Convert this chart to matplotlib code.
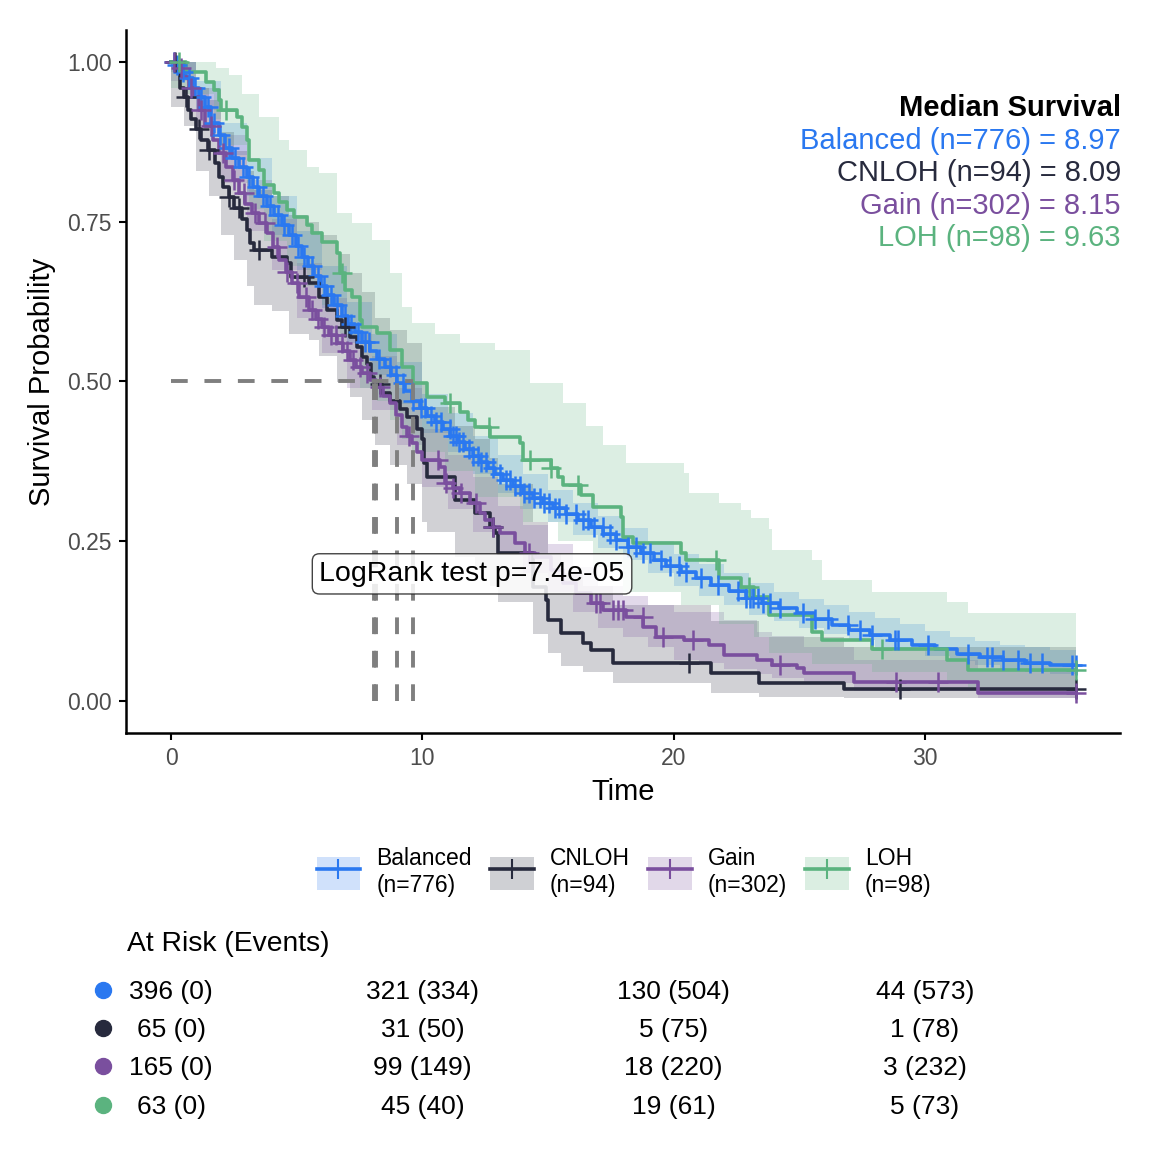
import numpy as np
import matplotlib
matplotlib.use('Agg')
import matplotlib.pyplot as plt
import matplotlib.transforms as mtrans
from matplotlib.patches import Patch
from matplotlib.lines import Line2D
from matplotlib.legend_handler import HandlerTuple

plt.rcParams['font.family'] = ['Liberation Sans', 'DejaVu Sans']

groups = ['Balanced', 'CNLOH', 'Gain', 'LOH']
n_total = [776, 94, 302, 98]
medians = [8.97, 8.09, 8.15, 9.63]
colors = ['#2A78F0', '#272A3D', '#7A4F9E', '#5BB37F']
t_end = 36.0

# Balanced - step times / survival
bal_t = [0.15, 0.35, 0.6, 0.85, 1.1, 1.35, 1.6, 1.9, 2.15, 2.4, 2.7, 3.0, 3.25, 3.5, 3.8,
         4.1, 4.4, 4.7, 4.95, 5.2, 5.45, 5.7, 5.95, 6.2, 6.5, 6.8, 7.05, 7.3, 7.6, 7.9,
         8.2, 8.5, 8.75, 8.97, 9.3, 9.6, 9.9, 10.2, 10.5, 10.8, 11.1, 11.4, 11.7, 12.0,
         12.3, 12.6, 12.9, 13.2, 13.6, 14.0, 14.4, 14.8, 15.2, 15.7, 16.2, 16.7, 17.2,
         17.7, 18.2, 18.7, 19.2, 19.7, 20.3, 20.9, 21.5, 22.2, 22.9, 23.5, 24.2, 24.9,
         25.6, 26.3, 27.0, 27.8, 28.6, 29.5, 30.4, 31.3, 32.2, 33.1, 34.0, 35.0]
bal_s = [0.995, 0.985, 0.975, 0.96, 0.945, 0.93, 0.905, 0.885, 0.865, 0.85, 0.835, 0.82,
         0.805, 0.79, 0.775, 0.76, 0.745, 0.73, 0.712, 0.695, 0.68, 0.665, 0.65, 0.636,
         0.62, 0.603, 0.59, 0.577, 0.562, 0.548, 0.535, 0.522, 0.51, 0.498, 0.485, 0.47,
         0.458, 0.446, 0.436, 0.425, 0.415, 0.405, 0.395, 0.384, 0.374, 0.364, 0.355,
         0.346, 0.337, 0.326, 0.318, 0.31, 0.302, 0.293, 0.283, 0.272, 0.262, 0.252,
         0.241, 0.231, 0.22, 0.212, 0.202, 0.192, 0.182, 0.172, 0.162, 0.154, 0.145,
         0.137, 0.128, 0.119, 0.111, 0.103, 0.095, 0.088, 0.081, 0.074, 0.069, 0.064,
         0.06, 0.057]
bal_cens = [0.1, 0.25, 0.45, 0.7, 0.95, 1.2, 1.45, 1.7, 1.95, 2.3, 2.55, 2.85, 3.1, 3.4,
            3.65, 3.95, 4.25, 4.5, 4.8, 5.05, 5.3, 5.6, 5.85, 6.1, 6.35, 6.6, 6.9, 7.15,
            7.45, 7.7, 7.89, 8.29, 8.69, 8.95, 9.22, 9.61, 9.95, 10.1, 10.35, 10.55, 10.74,
            11.08, 11.2, 11.34, 11.45, 11.61, 11.87, 12.0, 12.2, 12.35, 12.54, 12.8, 13.07,
            13.33, 13.5, 13.67, 13.9, 14.06, 14.25, 14.46, 14.7, 14.86, 15.05, 15.26, 15.45,
            15.72, 16.1, 16.39, 16.6, 16.85, 17.18, 17.45, 17.72, 18.2, 18.51, 18.8, 19.04,
            19.5, 19.84, 20.2, 20.5, 21.1, 21.77, 22.56, 22.9, 23.03, 23.16, 23.36, 23.56,
            23.82, 24.22, 25.15, 25.62, 26.15, 26.94, 27.41, 27.88, 28.8, 28.94, 30.13,
            31.73, 32.46, 32.66, 33.12, 33.72, 34.18, 34.65, 35.84, 36.0]
bal_band_t = [0, 1, 2, 3, 4, 5, 6, 7, 8, 9, 10, 11, 12, 13, 14, 15, 16, 17, 18, 19, 20,
              21, 22, 23, 24, 25, 26, 27, 28, 29, 30, 31, 32, 33, 34, 35]
bal_lo = [0.985, 0.925, 0.855, 0.79, 0.73, 0.675, 0.615, 0.56, 0.51, 0.465, 0.42, 0.39,
          0.355, 0.325, 0.3, 0.28, 0.26, 0.24, 0.22, 0.2, 0.18, 0.165, 0.15, 0.135, 0.125,
          0.115, 0.105, 0.095, 0.085, 0.078, 0.07, 0.062, 0.056, 0.05, 0.046, 0.043]
bal_hi = [1.0, 0.97, 0.905, 0.85, 0.79, 0.735, 0.68, 0.625, 0.575, 0.53, 0.48, 0.45,
          0.415, 0.385, 0.355, 0.33, 0.31, 0.29, 0.27, 0.25, 0.23, 0.215, 0.2, 0.185,
          0.17, 0.16, 0.15, 0.14, 0.13, 0.12, 0.11, 0.1, 0.094, 0.088, 0.084, 0.08]

# CNLOH
cn_t = [0.35, 0.5, 0.65, 0.8, 1.0, 1.2, 1.45, 1.75, 1.9, 2.05, 2.3, 2.5, 2.8, 3.0, 3.15,
        3.3, 4.0, 4.6, 4.75, 5.5, 5.9, 6.2, 6.6, 6.8, 7.1, 7.4, 7.6, 7.8, 7.95, 8.09, 8.4,
        8.7, 9.1, 9.4, 9.8, 10.0, 10.05, 10.2, 11.3, 12.1, 12.7, 12.9, 13.0, 14.4, 14.9,
        15.0, 15.5, 16.4, 16.7, 17.6, 21.5, 23.4, 26.8]
cn_s = [0.96, 0.945, 0.925, 0.91, 0.895, 0.878, 0.862, 0.842, 0.82, 0.804, 0.789, 0.771,
        0.755, 0.737, 0.717, 0.706, 0.695, 0.685, 0.664, 0.654, 0.632, 0.612, 0.596, 0.585,
        0.57, 0.554, 0.538, 0.527, 0.507, 0.496, 0.482, 0.47, 0.457, 0.444, 0.425, 0.41,
        0.372, 0.351, 0.315, 0.295, 0.272, 0.263, 0.232, 0.178, 0.158, 0.127, 0.106, 0.091,
        0.08, 0.059, 0.044, 0.028, 0.019]
cn_cens = [0.15, 0.6, 1.1, 1.5, 2.3, 2.7, 3.5, 5.3, 6.9, 8.3, 12.8, 20.6, 29.0, 36.0]
cn_band_t = [0, 0.5, 1.0, 1.5, 2.0, 2.5, 3.0, 3.3, 4.0, 4.7, 5.5, 5.9, 6.6, 7.1, 7.6, 8.1,
             8.7, 9.4, 10.0, 10.2, 11.3, 12.1, 12.7, 13.0, 14.4, 15.0, 15.5, 16.4, 17.6,
             21.5, 23.4, 26.8]
cn_lo = [0.93, 0.9, 0.83, 0.79, 0.73, 0.69, 0.65, 0.62, 0.61, 0.575, 0.565, 0.54, 0.5,
         0.475, 0.44, 0.4, 0.37, 0.34, 0.28, 0.265, 0.225, 0.205, 0.18, 0.155, 0.105, 0.075,
         0.055, 0.045, 0.028, 0.013, 0.006, 0.004]
cn_hi = [1.0, 1.0, 0.96, 0.94, 0.89, 0.86, 0.83, 0.8, 0.79, 0.76, 0.75, 0.73, 0.7, 0.67,
         0.64, 0.6, 0.58, 0.56, 0.5, 0.46, 0.43, 0.41, 0.38, 0.34, 0.28, 0.23, 0.2, 0.18,
         0.15, 0.125, 0.1, 0.085]

# Gain
gain_t = [0.2, 0.45, 0.7, 0.9, 1.1, 1.35, 1.65, 1.9, 2.2, 2.45, 2.7, 2.95, 3.2, 3.5, 3.8,
          4.05, 4.3, 4.55, 4.8, 5.1, 5.5, 5.75, 6.0, 6.3, 6.6, 6.85, 7.1, 7.35, 7.6, 7.9,
          8.15, 8.45, 8.7, 8.95, 9.2, 9.4, 9.6, 9.8, 10.0, 10.7, 10.9, 11.2, 11.5, 11.9,
          12.3, 12.5, 12.8, 13.1, 13.7, 14.1, 14.5, 15.1, 15.6, 16.1, 16.7, 17.2, 18.1,
          18.8, 19.3, 20.4, 21.4, 22.0, 23.3, 23.9, 24.9, 25.2, 27.2, 32.1]
gain_s = [0.99, 0.977, 0.96, 0.945, 0.925, 0.9, 0.878, 0.857, 0.836, 0.815, 0.795, 0.778,
          0.763, 0.748, 0.732, 0.71, 0.69, 0.672, 0.654, 0.632, 0.612, 0.598, 0.585, 0.572,
          0.56, 0.547, 0.534, 0.523, 0.513, 0.502, 0.491, 0.478, 0.466, 0.448, 0.429, 0.415,
          0.404, 0.39, 0.377, 0.366, 0.341, 0.333, 0.325, 0.31, 0.294, 0.283, 0.273, 0.263,
          0.247, 0.232, 0.225, 0.205, 0.185, 0.169, 0.153, 0.142, 0.131, 0.116, 0.1, 0.095,
          0.088, 0.072, 0.064, 0.056, 0.052, 0.044, 0.03, 0.013]
gain_cens = [0.1, 0.4, 0.8, 1.2, 1.6, 2.05, 2.5, 2.9, 3.35, 3.75, 4.2, 4.6, 5.0, 5.35,
             5.6, 5.85, 6.1, 6.35, 6.55, 6.8, 7.0, 7.25, 7.5, 7.8, 8.3, 9.48, 10.61, 10.94,
             11.21, 11.54, 12.14, 12.8, 14.26, 16.92, 17.05, 17.58, 17.78, 17.98, 18.77,
             19.58, 20.77, 24.22, 28.87, 30.52, 36.0]
gain_band_t = [0, 1, 2, 3, 4, 5, 6, 7, 8, 9, 10, 11, 12, 13, 14, 15, 16, 17, 18, 19,
               20, 21, 22, 23.3, 23.9, 25.2, 27.2, 32.1]
gain_lo = [0.97, 0.9, 0.81, 0.735, 0.675, 0.6, 0.545, 0.49, 0.455, 0.4, 0.335, 0.3, 0.265,
           0.23, 0.2, 0.17, 0.14, 0.115, 0.1, 0.085, 0.065, 0.06, 0.05, 0.042, 0.036,
           0.028, 0.015, 0.004]
gain_hi = [1.0, 0.96, 0.885, 0.815, 0.755, 0.685, 0.63, 0.575, 0.54, 0.49, 0.425, 0.385,
           0.35, 0.305, 0.275, 0.245, 0.21, 0.18, 0.165, 0.15, 0.14, 0.14, 0.127, 0.108,
           0.101, 0.085, 0.065, 0.05]

# LOH
loh_t = [0.6, 1.4, 1.7, 1.9, 2.0, 2.6, 2.8, 3.0, 3.1, 3.5, 3.7, 4.1, 4.3, 4.6, 4.9, 5.4,
         5.6, 6.0, 6.6, 6.7, 6.9, 7.2, 7.5, 7.6, 8.2, 8.7, 9.2, 9.63, 10.2, 10.9, 11.5,
         11.8, 12.1, 12.7, 13.9, 14.0, 15.1, 15.4, 15.6, 16.3, 16.8, 17.9, 18.0, 18.4,
         20.3, 20.5, 21.8, 22.7, 23.2, 23.8, 25.5, 25.9, 27.9, 30.9, 31.7]
loh_s = [0.984, 0.969, 0.956, 0.94, 0.925, 0.914, 0.898, 0.878, 0.847, 0.831, 0.808, 0.795,
         0.781, 0.768, 0.757, 0.745, 0.732, 0.718, 0.701, 0.67, 0.643, 0.632, 0.596, 0.585,
         0.576, 0.549, 0.523, 0.498, 0.476, 0.466, 0.452, 0.44, 0.429, 0.413, 0.404, 0.377,
         0.365, 0.351, 0.338, 0.322, 0.304, 0.288, 0.257, 0.247, 0.232, 0.22, 0.193, 0.179,
         0.163, 0.135, 0.108, 0.095, 0.081, 0.064, 0.049]
loh_cens = [0.3, 2.2, 6.8, 11.1, 12.67, 14.3, 15.1, 16.2, 21.7, 23.0, 28.3, 36.0]
loh_band_t = [0, 0.6, 1.7, 1.8, 2.0, 2.3, 2.8, 3.0, 3.1, 3.5, 3.7, 4.3, 4.6, 4.7, 5.4,
              5.9, 6.0, 6.6, 6.7, 7.2, 7.5, 8.0, 8.2, 8.7, 9.2, 9.6, 10.5, 10.9, 11.5,
              12.1, 12.9, 13.9, 14.0, 14.3, 15.4, 15.6, 16.5, 16.8, 17.2, 18.0, 18.1,
              20.3, 20.4, 20.6, 21.8, 22.7, 23.1, 23.2, 23.8, 23.9, 25.5, 25.9, 27.9,
              30.9, 31.7]
loh_lo = [0.96, 0.95, 0.91, 0.91, 0.87, 0.87, 0.87, 0.81, 0.77, 0.77, 0.72, 0.72, 0.68,
          0.68, 0.65, 0.65, 0.62, 0.62, 0.57, 0.57, 0.49, 0.49, 0.47, 0.44, 0.41, 0.39,
          0.39, 0.36, 0.36, 0.32, 0.32, 0.3, 0.28, 0.28, 0.25, 0.25, 0.25, 0.21, 0.21,
          0.17, 0.17, 0.15, 0.15, 0.15, 0.12, 0.12, 0.12, 0.1, 0.075, 0.075, 0.058, 0.058,
          0.045, 0.032, 0.022]
loh_hi = [1.0, 1.0, 1.0, 0.99, 0.99, 0.98, 0.95, 0.95, 0.95, 0.914, 0.914, 0.878, 0.878,
          0.862, 0.836, 0.826, 0.826, 0.764, 0.764, 0.748, 0.748, 0.721, 0.721, 0.67, 0.617,
          0.592, 0.575, 0.575, 0.56, 0.56, 0.549, 0.549, 0.549, 0.498, 0.498, 0.466, 0.43,
          0.43, 0.4, 0.4, 0.372, 0.372, 0.357, 0.325, 0.31, 0.299, 0.286, 0.286, 0.269,
          0.236, 0.22, 0.189, 0.171, 0.155, 0.138]

steps = [(bal_t, bal_s), (cn_t, cn_s), (gain_t, gain_s), (loh_t, loh_s)]
cens = [bal_cens, cn_cens, gain_cens, loh_cens]
bands = [(bal_band_t, bal_lo, bal_hi), (cn_band_t, cn_lo, cn_hi),
         (gain_band_t, gain_lo, gain_hi), (loh_band_t, loh_lo, loh_hi)]

# at risk table
risk_times = [0, 10, 20, 30]
bal_risk = [396, 321, 130, 44]
bal_events = [0, 334, 504, 573]
cn_risk = [65, 31, 5, 1]
cn_events = [0, 50, 75, 78]
gain_risk = [165, 99, 18, 3]
gain_events = [0, 149, 220, 232]
loh_risk = [63, 45, 19, 5]
loh_events = [0, 40, 61, 73]
risk_rows = [(bal_risk, bal_events), (cn_risk, cn_events),
             (gain_risk, gain_events), (loh_risk, loh_events)]

fig = plt.figure(figsize=(11.52, 11.52), dpi=100)
ax = fig.add_axes([126 / 1152, 1 - 733 / 1152, 994 / 1152, 703 / 1152])

for (bt, lo, hi), c in zip(bands, colors):
    x = list(bt) + [t_end]
    ax.fill_between(x, list(lo) + [lo[-1]], list(hi) + [hi[-1]], step='post',
                    color=c, alpha=0.21, linewidth=0, zorder=1)

for (st, ss), cs, c in zip(steps, cens, colors):
    x = np.array([0] + list(st) + [t_end])
    y = np.array([1.0] + list(ss) + [ss[-1]])
    ax.step(x, y, where='post', color=c, linewidth=2.6, zorder=3)
    idx = np.searchsorted(x, cs, side='right') - 1
    ax.plot(cs, y[idx], linestyle='none', marker='+', markersize=15,
            markeredgewidth=1.8, color=c, zorder=4)

# median lines
ml = dict(color='#7F7F7F', linewidth=2.8, dashes=(4.3, 4.3), zorder=5)
ax.plot([0, max(medians)], [0.5, 0.5], **ml)
for m in medians:
    ax.plot([m, m], [0, 0.5], **ml)

ax.set_xlim(-1.8, 37.77)
ax.set_ylim(-0.05, 1.05)
ax.set_xticks([0, 10, 20, 30])
ax.set_yticks([0, 0.25, 0.5, 0.75, 1.0])
ax.set_yticklabels(['0.00', '0.25', '0.50', '0.75', '1.00'])
for s in ['top', 'right']:
    ax.spines[s].set_visible(False)
for s in ['left', 'bottom']:
    ax.spines[s].set_linewidth(1.8)
ax.tick_params(length=5, width=1.5, labelsize=16.5, labelcolor='#4D4D4D', pad=5)
ax.set_xlabel('Time', fontsize=21, labelpad=6)
ax.set_ylabel('Survival Probability', fontsize=21, labelpad=8)

ax.text(5.9, 0.199, 'LogRank test p=7.4e-05', fontsize=20.5, ha='left', va='center',
        zorder=6, bbox=dict(boxstyle='round,pad=0.25', facecolor='white', alpha=0.85,
                            edgecolor='#222222', linewidth=1.0))

# median survival text
fig.text(1121 / 1152, 1 - 116 / 1152, 'Median Survival', fontsize=21,
         fontweight='bold', ha='right', va='baseline')
for i, (g, n, m, c) in enumerate(zip(groups, n_total, medians, colors)):
    fig.text(1121 / 1152, 1 - (149 + 32.3 * i) / 1152, f'{g} (n={n}) = {m:.2f}',
             fontsize=21, color=c, ha='right', va='baseline')

# legend
handles = []
for c in colors:
    handles.append((Patch(facecolor=c, alpha=0.22, edgecolor='none'),
                    Line2D([], [], color=c, linewidth=2.6, marker='+', markersize=15,
                           markeredgewidth=1.5)))
labels = [f'{g}\n(n={n})' for g, n in zip(groups, n_total)]
fig.legend(handles, labels, loc='center', bbox_to_anchor=(624 / 1152, 1 - 872 / 1152),
           ncol=4, frameon=False, fontsize=16.5, handlelength=1.9, handleheight=1.8,
           handletextpad=0.7, columnspacing=0.8, numpoints=1,
           handler_map={tuple: HandlerTuple(ndivide=1, pad=0)})

# at risk table
tr = mtrans.blended_transform_factory(ax.transData, fig.transFigure)
fig.text(127 / 1152, 1 - 944 / 1152, 'At Risk (Events)', fontsize=20.3, ha='left',
         va='center')
row_y = [992, 1030, 1068, 1107]
for (r, e), c, yy in zip(risk_rows, colors, row_y):
    yf = 1 - yy / 1152
    fig.add_artist(Line2D([103 / 1152], [1 - (yy - 2) / 1152], transform=fig.transFigure,
                          marker='o', markersize=11.5, color=c, linestyle='none'))
    for t, rv, ev in zip(risk_times, r, e):
        fig.text(t, yf, f'{rv} ({ev})', transform=tr, fontsize=19, ha='center',
                 va='center')

fig.savefig('out.png', dpi=100)
